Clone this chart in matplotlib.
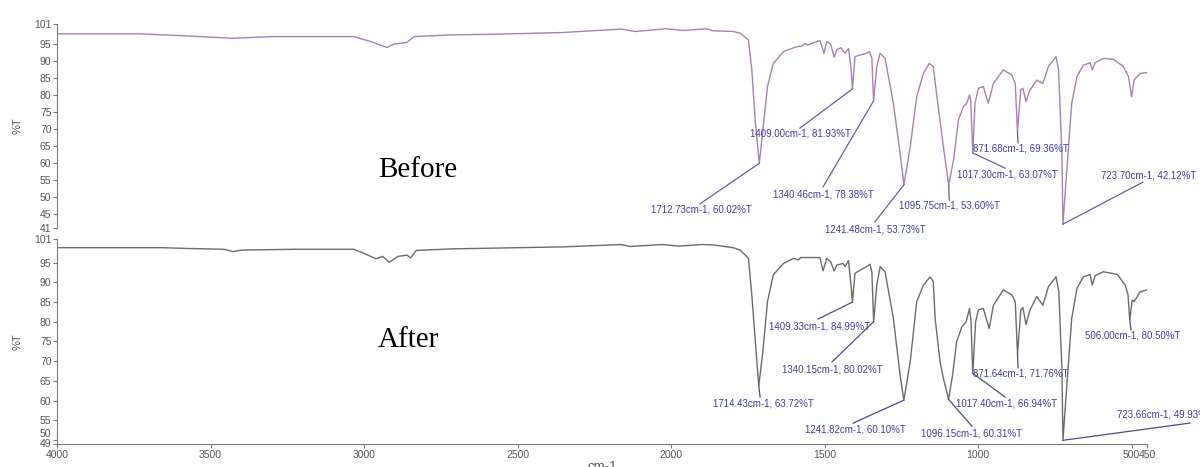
import matplotlib
matplotlib.use('Agg')
import matplotlib.pyplot as plt
from matplotlib.transforms import ScaledTranslation

# Espectro "Before" (numero de onda cm-1, %T)
before_wn = [4000, 3733, 3600, 3427, 3300, 3238, 3034, 2977, 2925, 2902, 2860, 2837,
             2713, 2570, 2352, 2163, 2117, 2016, 1958, 1886, 1862, 1798, 1775, 1748,
             1737, 1726, 1712.73, 1701, 1686, 1667, 1634, 1591, 1575, 1564, 1555, 1536,
             1515, 1502, 1493, 1480, 1469, 1460, 1447, 1433, 1422, 1414, 1409.00, 1401,
             1384, 1363, 1354, 1346, 1340.46, 1330, 1319, 1303, 1276, 1254, 1241.48,
             1221, 1200, 1178, 1159, 1146, 1134, 1113, 1095.75, 1080, 1064, 1048, 1037,
             1028, 1024, 1017.30, 1010, 999, 983, 967, 950, 918, 890, 879, 871.68, 861,
             854, 844, 831, 809, 789, 771, 746, 738, 727, 723.70, 711, 695, 678, 657,
             635, 628, 619, 592, 559, 527, 510, 500, 492, 472, 450]
before_t = [98.1, 98.1, 97.6, 96.8, 97.3, 97.3, 97.3, 95.8, 94.1, 95.1, 95.6, 97.3,
            97.8, 98.0, 98.5, 99.5, 98.8, 99.6, 99.1, 99.6, 99.0, 98.8, 98.3, 96.3,
            87.5, 72.8, 60.02, 69.8, 82.6, 89.4, 92.9, 94.3, 94.5, 95.3, 94.8, 95.5,
            96.1, 92.4, 95.8, 95.1, 91.2, 93.5, 94.0, 92.4, 93.8, 88.0, 81.93, 91.4,
            91.9, 92.4, 92.9, 91.0, 78.38, 88.5, 92.4, 90.9, 77.7, 63.0, 53.73,
            64.9, 79.6, 86.5, 89.4, 88.5, 79.6, 64.9, 53.60, 61.0, 72.8, 76.7, 77.7,
            80.1, 78.6, 63.07, 77.7, 82.1, 82.6, 77.7, 83.5, 87.5, 86.0, 83.5, 69.36, 81.6,
            82.1, 78.2, 81.6, 84.5, 83.5, 88.5, 91.4, 87.5, 63.0, 42.12, 58.0, 77.7, 85.5, 88.9,
            89.6, 87.5, 89.6, 90.9, 90.6, 88.5, 85.5, 79.6, 84.5, 86.5, 86.7]

# Espectro "After"
after_wn = [4000, 3733, 3659, 3573, 3456, 3427, 3397, 3223, 3034, 3005, 2961, 2939,
            2918, 2889, 2860, 2848, 2830, 2713, 2495, 2352, 2163, 2134, 2029, 1974,
            1899, 1862, 1798, 1775, 1748, 1737, 1723, 1714.43, 1701, 1686, 1667, 1634,
            1601, 1585, 1578, 1536, 1515, 1505, 1493, 1480, 1469, 1460, 1440, 1433,
            1422, 1414, 1409.33, 1401, 1384, 1363, 1352, 1346, 1340.15, 1330, 1319,
            1303, 1276, 1254, 1241.82, 1221, 1200, 1178, 1156, 1146, 1140, 1124, 1113,
            1102, 1096.15, 1083, 1070, 1053, 1039, 1028, 1023, 1017.40, 1008, 999, 983,
            964, 950, 918, 890, 879, 871.64, 861, 854, 844, 831, 809, 789, 771, 746,
            737, 727, 723.66, 711, 695, 678, 657, 635, 628, 619, 592, 546, 521, 512,
            506.00, 498, 492, 472, 450]
after_t = [98.8, 98.8, 98.8, 98.6, 98.4, 97.8, 98.2, 98.4, 98.4, 97.5, 96.0, 96.6,
           95.1, 96.6, 96.9, 96.2, 98.1, 98.5, 98.8, 99.0, 99.6, 99.1, 99.6, 99.2,
           99.6, 99.5, 98.8, 98.2, 96.1, 86.8, 72.4, 63.72, 72.4, 85.1, 91.9, 94.8,
           96.1, 95.7, 96.3, 96.3, 96.3, 92.9, 96.1, 95.2, 92.9, 94.4, 94.8, 94.0,
           95.5, 89.3, 84.99, 92.3, 93.1, 94.0, 94.6, 92.7, 80.02, 89.3, 94.0,
           92.7, 80.9, 66.5, 60.10, 69.9, 85.1, 89.3, 91.4, 90.2, 80.9, 69.9, 65.6,
           62.2, 60.31, 66.5, 74.9, 78.7, 80.0, 83.4, 80.0, 66.94, 80.0, 83.0, 83.4,
           78.3, 84.2, 88.1, 86.8, 85.1, 71.76, 83.0, 83.6, 79.3, 83.0, 86.4, 84.2, 88.9, 91.4,
           87.6, 68.2, 49.93, 63.9, 80.9, 88.5, 91.4, 92.0, 89.3, 91.7, 92.7, 92.0, 89.3, 87.0,
           80.50, 85.5, 85.1, 87.6, 88.1]

# Picos etiquetados
before_peaks = [(1712.73, 60.02), (1409.00, 81.93), (1340.46, 78.38), (1241.48, 53.73),
                (1095.75, 53.60), (1017.30, 63.07), (871.68, 69.36), (723.70, 42.12)]
after_peaks = [(1714.43, 63.72), (1409.33, 84.99), (1340.15, 80.02), (1241.82, 60.10),
               (1096.15, 60.31), (1017.40, 66.94), (871.64, 71.76), (506.00, 80.50),
               (723.66, 49.93)]

x_ticks = [4000, 3500, 3000, 2500, 2000, 1500, 1000, 500, 450]
top_yticks = [41, 45, 50, 55, 60, 65, 70, 75, 80, 85, 90, 95, 101]
bot_yticks = [49, 50, 55, 60, 65, 70, 75, 80, 85, 90, 95, 101]

# Posicion de las etiquetas: fin de la linea guia y punto del texto
before_line_end = [(1906, 48.1), (1580, 70.4), (1505, 53.1), (1336, 42.8),
                   (1094, 49.2), (912, 58.6), (870, 66.0), (463, 54.5)]
before_text_pos = [(1900, 47.8), (1577, 70.2), (1505, 52.3), (1336, 42.0),
                   (1094, 49.1), (906, 58.2), (860, 65.9), (446, 55.0)]
before_text_va = ['top'] * 7 + ['bottom']
after_line_end = [(1710, 60.9), (1521, 80.7), (1476, 69.8), (1407, 54.3),
                  (1020, 53.5), (912, 60.9), (870, 68.3), (502, 77.9), (310, 54.3)]
after_text_pos = [(1700, 60.5), (1515, 80.1), (1476, 69.1), (1400, 53.9),
                  (1020, 52.9), (906, 60.5), (860, 68.1), (498, 77.8), (391, 55.1)]
after_text_va = ['top'] * 8 + ['bottom']

AXIS_GRAY = '#7a7a7a'
TEXT_GRAY = '#555555'
LABEL_BLUE = '#3c3ca8'


def style_axis(ax, yticks, ymin, show_x):
    ax.set_xlim(4000, 450)
    ax.set_ylim(ymin, 101)
    ax.set_yticks(yticks)
    ax.set_xticks(x_ticks)
    for side in ['top', 'right']:
        ax.spines[side].set_visible(False)
    ax.spines['left'].set_color(AXIS_GRAY)
    ax.spines['bottom'].set_color(AXIS_GRAY)
    ax.tick_params(axis='both', direction='out', length=3, width=0.8,
                   color=AXIS_GRAY, labelsize=7.5, labelcolor=TEXT_GRAY, pad=1)
    if not show_x:
        ax.spines['bottom'].set_visible(False)
        ax.tick_params(axis='x', bottom=False, labelbottom=False)
    ax.set_ylabel('%T', fontsize=8, color=TEXT_GRAY, labelpad=8)
    ax.patch.set_alpha(0)


def add_labels(ax, peaks, line_end, text_pos, text_va, line_color):
    for (wn, t), (lx, ly), (tx, ty), va in zip(peaks, line_end, text_pos, text_va):
        ax.plot([wn, lx], [t, ly], color=line_color, lw=0.9, clip_on=False)
        ax.text(tx, ty, f'{wn:.2f}cm-1, {t:.2f}%T', ha='center', va=va,
                fontsize=7.0, color=LABEL_BLUE, family='Liberation Sans',
                clip_on=False)


plt.rcParams['font.family'] = ['Liberation Sans', 'DejaVu Sans']
fig = plt.figure(figsize=(12, 4.67), dpi=100)
ax_top = fig.add_axes([0.0475, 0.5118, 0.9083, 0.4368])
ax_bot = fig.add_axes([0.0475, 0.0493, 0.9083, 0.4389])

ax_top.plot(before_wn, before_t, color='#a87fb8', lw=1.0)
ax_bot.plot(after_wn, after_t, color='#6b6b6b', lw=1.0)

style_axis(ax_top, top_yticks, 41, False)
style_axis(ax_bot, bot_yticks, 49, True)
ax_bot.set_xlabel('cm-1', fontsize=9.5, color=TEXT_GRAY, labelpad=1)

# separar las etiquetas 49 y 50, que quedan muy juntas
fig.canvas.draw()
ylabels = ax_bot.get_yticklabels()
ylabels[0].set_transform(ylabels[0].get_transform()
                         + ScaledTranslation(0, 1 / 100, fig.dpi_scale_trans))
ylabels[1].set_transform(ylabels[1].get_transform()
                         + ScaledTranslation(0, 7 / 100, fig.dpi_scale_trans))

add_labels(ax_top, before_peaks, before_line_end, before_text_pos, before_text_va, '#6a58b0')
add_labels(ax_bot, after_peaks, after_line_end, after_text_pos, after_text_va, '#4a4a90')

ax_top.text(2954, 58, 'Before', fontsize=21, family='Liberation Serif',
            ha='left', va='center', color='black')
ax_bot.text(2954, 75.4, 'After', fontsize=21, family='Liberation Serif',
            ha='left', va='center', color='black')

fig.savefig('out.png', dpi=100)
plt.close(fig)
